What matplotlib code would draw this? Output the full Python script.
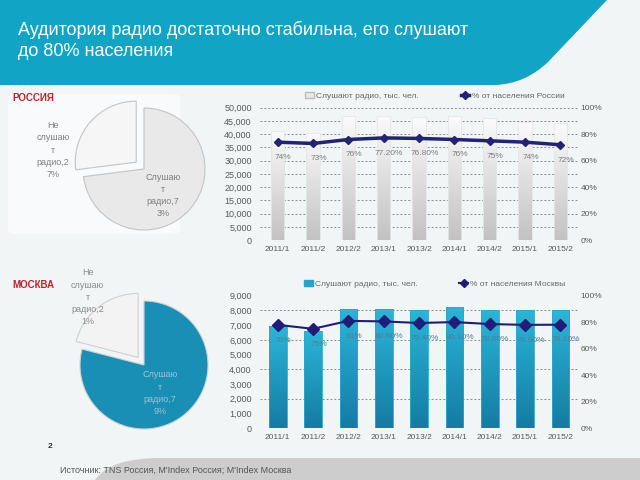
import numpy as np
import matplotlib
matplotlib.use("Agg")
import matplotlib.pyplot as plt
from matplotlib.path import Path
from matplotlib.patches import PathPatch, Patch, FancyBboxPatch
from matplotlib.lines import Line2D
from matplotlib.colors import LinearSegmentedColormap
from matplotlib.ticker import FuncFormatter

plt.rcParams['font.family'] = ['Liberation Sans', 'DejaVu Sans']

# === Data ===
periods = ['2011/1', '2011/2', '2012/2', '2013/1', '2013/2',
           '2014/1', '2014/2', '2015/1', '2015/2']

ru_listeners = [41200, 40600, 46900, 46900, 46400, 46900, 46000, 44700, 44100]
ru_share = [74, 73, 76, 77.2, 76.8, 76, 75, 74, 72]
ru_share_labels = ['74%', '73%', '76%', '77.20%', '76.80%', '76%', '75%', '74%', '72%']

msk_listeners = [6950, 6600, 8100, 8100, 8050, 8250, 8050, 8050, 8050]
msk_share = [78, 75, 81, 80.6, 79.4, 80.1, 78.6, 78.0, 78.1]
msk_share_labels = ['78%', '75%', '81%', '80.60%', '79.40%', '80.10%', '78.60%', '78.00%', '78.10%']

ru_pie = [27, 73]
ru_pie_labels = ['Не\nслушаю\nт\nрадио,2\n7%', 'Слушаю\nт\nрадио,7\n3%']
msk_pie = [21, 79]
msk_pie_labels = ['Не\nслушаю\nт\nрадио,2\n1%', 'Слушаю\nт\nрадио,7\n9%']

title = 'Аудитория радио достаточно стабильна, его слушают\nдо 80% населения'
source = "Источник: TNS Россия, M'Index Россия; M'Index Москва"

W, H = 640, 480
TEAL = '#12a4c4'

fig = plt.figure(figsize=(6.4, 4.8), dpi=100)
fig.patch.set_facecolor('#f1f5f6')

# === Slide decoration (pixel coords) ===
bg = fig.add_axes([0, 0, 1, 1], zorder=-10)
bg.set_xlim(0, W)
bg.set_ylim(H, 0)
bg.axis('off')

band = Path([(0, 0), (607, 0), (548, 62), (525, 84), (495, 85), (0, 85), (0, 0)],
            [Path.MOVETO, Path.LINETO, Path.LINETO, Path.CURVE3, Path.CURVE3,
             Path.LINETO, Path.CLOSEPOLY])
bg.add_patch(PathPatch(band, facecolor=TEAL, edgecolor='none'))
bg.add_patch(FancyBboxPatch((8, 94), 172, 140, boxstyle='round,pad=0,rounding_size=6',
                            facecolor='white', edgecolor='none', alpha=0.6))
bottom = Path([(95, 480), (110, 458), (160, 458), (640, 458), (640, 480), (95, 480)],
              [Path.MOVETO, Path.CURVE3, Path.CURVE3, Path.LINETO, Path.LINETO,
               Path.CLOSEPOLY])
bg.add_patch(PathPatch(bottom, facecolor='#cdcdcd', edgecolor='none'))

bg.text(18, 56, title, color='white', fontsize=13, va='baseline', linespacing=1.3)
bg.text(12, 98, 'РОССИЯ', color='#c3202e', fontsize=7, fontweight='bold', va='center')
bg.text(12, 285, 'МОСКВА', color='#c3202e', fontsize=7, fontweight='bold', va='center')
bg.text(48, 446, '2', color='#333333', fontsize=6, fontweight='bold', va='center')
bg.text(60, 470, source, color='#555555', fontsize=6.5, va='center')


def px_axes(cx, cy, half):
    return fig.add_axes([(cx - half) / W, 1 - (cy + half) / H, 2 * half / W, 2 * half / H])


# === Pies ===
def draw_pie(cx, cy, r, values, labels, colors, edge, label_pos, label_colors, explode):
    half = r * 1.25
    ax = px_axes(cx, cy, half)
    ax.pie(values, startangle=90, counterclock=True, colors=colors,
           explode=[explode, 0], wedgeprops=dict(edgecolor=edge, linewidth=0.8))
    ax.set_xlim(-1.25, 1.25)
    ax.set_ylim(-1.25, 1.25)
    ax.set_aspect('equal')
    for lab, (lx, ly), c in zip(labels, label_pos, label_colors):
        ax.text(lx, ly, lab, ha='center', va='center', fontsize=6.5, color=c,
                linespacing=1.45, clip_on=False)
    return ax


draw_pie(144, 169, 61, ru_pie, ru_pie_labels, ['#f6f6f6', '#e9e9e9'], '#c4c4c4',
         [(-1.49, 0.31), (0.31, -0.43)], ['#7f7f7f', '#7f7f7f'], 0.17)
draw_pie(144, 365, 64, msk_pie, msk_pie_labels, ['#f3f3f3', '#1a8fb5'], '#d0d0d0',
         [(-0.88, 1.06), (0.25, -0.44)], ['#8c8c8c', '#9fc3d2'], 0.15)


# === Combo bar + line charts ===
def gradient_bars(ax, bars, top, bottom_c):
    cmap = LinearSegmentedColormap.from_list('g', [bottom_c, top])
    grad = np.linspace(0, 1, 256).reshape(-1, 1)
    for b in bars:
        x0, w, h = b.get_x(), b.get_width(), b.get_height()
        im = ax.imshow(grad, extent=[x0, x0 + w, 0, h], origin='lower', aspect='auto',
                       cmap=cmap, zorder=1.9)
        im.set_clip_path(b)
        b.set_facecolor('none')


def draw_combo(top_px, listeners, share, share_labels, ymax, ystep, grid_step,
               bar_w, bar_top, bar_bottom, bar_edge, grid_color, line_color, lw, ms,
               lab_color, legend_labels, legend_patch):
    ax = fig.add_axes([260 / W, 1 - (top_px + 132.5) / H, 318 / W, 132.5 / H])
    ax.patch.set_alpha(0)
    x = np.arange(len(periods))
    bars = ax.bar(x, listeners, width=bar_w, edgecolor=bar_edge, linewidth=0.6, zorder=2)
    gradient_bars(ax, bars, bar_top, bar_bottom)
    for g in np.arange(grid_step, ymax + 1, grid_step):
        ax.axhline(g, color=grid_color, lw=0.7, ls=(0, (2, 2)), zorder=1)
    ax.set_xlim(-0.5, len(periods) - 0.5)
    ax.set_ylim(0, ymax)
    ax.set_yticks(np.arange(0, ymax + 1, ystep))
    ax.yaxis.set_major_formatter(FuncFormatter(lambda v, p: f'{v:,.0f}'))
    ax.set_xticks(x)
    ax.set_xticklabels(periods)
    ax.tick_params(length=0, labelsize=6, colors='#595959', pad=4)
    ax.tick_params(axis='y', labelsize=6.5, pad=6)
    for s in ax.spines.values():
        s.set_visible(False)

    ax2 = ax.twinx()
    ax2.plot(x, share, color=line_color, lw=lw, marker='D', ms=ms, zorder=3)
    ax2.set_ylim(0, 100)
    ax2.set_yticks(range(0, 101, 20))
    ax2.set_yticklabels([f'{v}%' for v in range(0, 101, 20)])
    ax2.tick_params(length=0, labelsize=6, colors='#595959', pad=2)
    for s in ax2.spines.values():
        s.set_visible(False)
    for xi, v, lab in zip(x, share, share_labels):
        ax2.annotate(lab, (xi, v), xytext=(4, -11), textcoords='offset points',
                     ha='center', va='center', fontsize=6, color=lab_color, zorder=4)

    handles = [legend_patch,
               Line2D([0], [0], color=line_color, lw=lw, marker='D', ms=4)]
    ax2.legend(handles, legend_labels, loc='lower center', bbox_to_anchor=(0.55, 1.0),
               ncol=2, frameon=False, fontsize=6, columnspacing=5, handlelength=1,
               handletextpad=0.3, labelcolor='#666666')
    return ax, ax2


draw_combo(107.7, ru_listeners, ru_share, ru_share_labels, 50000, 5000, 5000,
           0.38, '#fbfbfb', '#c2c2c2', '#e6e6e6', '#8a8a8a', '#242272', 2.5, 4,
           '#7f7f7f', ['Слушают радио, тыс. чел.', '% от населения России'],
           Patch(facecolor='#e8e8e8', edgecolor='#bdbdbd'))
draw_combo(295.7, msk_listeners, msk_share, msk_share_labels, 9000, 1000, 2000,
           0.5, '#2bb6d8', '#157ba3', '#2aa8cc', '#8a8a8a', '#201c78', 1.5, 6,
           '#4f7f98', ['Слушают радио, тыс. чел.', '% от населения Москвы'],
           Patch(facecolor='#22a6c9', edgecolor='#22a6c9'))

fig.savefig('out.png', dpi=100, facecolor=fig.get_facecolor())
